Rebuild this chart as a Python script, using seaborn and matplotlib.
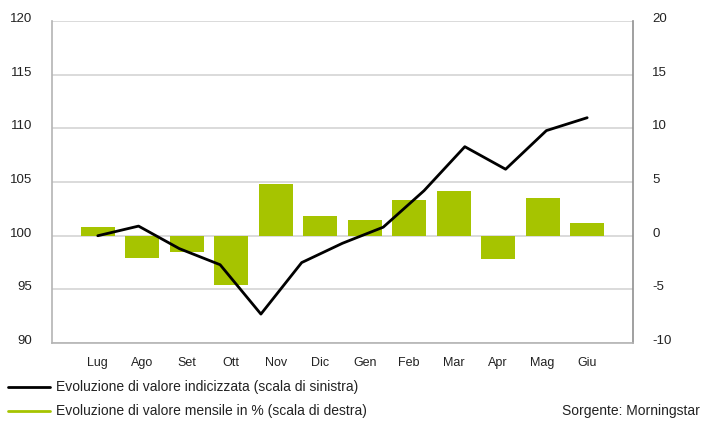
import numpy as np
import pandas as pd
import matplotlib
matplotlib.use("Agg")
import matplotlib.pyplot as plt
import matplotlib.transforms as mtrans
import seaborn as sns
from matplotlib.lines import Line2D

sns.set_theme(style="white")
plt.rcParams['font.family'] = ['Liberation Sans Narrow', 'Liberation Sans', 'DejaVu Sans']
plt.rcParams['axes.unicode_minus'] = False

months = ["Lug", "Ago", "Set", "Ott", "Nov", "Dic", "Gen", "Feb", "Mar", "Apr", "Mag", "Giu"]
monthly_pct = [0.84, -2.03, -1.56, -4.56, 4.78, 1.87, 1.5, 3.37, 4.2, -2.16, 3.56, 1.22]
index_values = [100.0, 100.9, 98.8, 97.3, 92.7, 97.5, 99.3, 100.8, 104.2, 108.3, 106.2, 109.8, 111.0]
left_ticks = [90, 95, 100, 105, 110, 115, 120]
right_ticks = [-10, -5, 0, 5, 10, 15, 20]

green = "#A6C400"
grid_c = "#D4D4D4"
spine_c = "#B4B4B4"
txt_c = "#222222"

fig = plt.figure(figsize=(7.02, 4.23), dpi=100)
ax = fig.add_axes([0.074, 0.189, 0.8277, 0.761])

bars_df = pd.DataFrame({"pos": np.arange(len(months)), "pct": monthly_pct})
sns.barplot(data=bars_df, x="pos", y="pct", color=green, saturation=1, width=0.76,
            native_scale=True, ax=ax, zorder=2, linewidth=0, edgecolor="none")
ax.set_ylim(-10, 20)
ax.set_xlim(-1.03, 12.03)
ax.set_yticks(right_ticks)
ax.set_xticks(range(len(months)))
ax.set_xticklabels(months)
ax.set_xlabel("")
ax.set_ylabel("")
ax.grid(axis="y", color=grid_c, linewidth=1.2, zorder=0)
ax.set_axisbelow(True)
for s in ["left", "bottom"]:
    ax.spines[s].set_color(spine_c)
    ax.spines[s].set_linewidth(1.2)
ax.spines["right"].set_color("#909090")
ax.spines["right"].set_linewidth(1.2)
ax.spines["top"].set_visible(False)

ax2 = ax.twinx()
line_df = pd.DataFrame({"x": np.linspace(0, len(months) - 1, len(index_values)), "v": index_values})
sns.lineplot(data=line_df, x="x", y="v", color="black", linewidth=2.0, ax=ax2, zorder=5)
ax2.set_ylim(90, 120)
ax2.set_yticks(left_ticks)
ax2.set_xlabel("")
ax2.set_ylabel("")
for s in ax2.spines.values():
    s.set_visible(False)
ax2.set_xlim(-1.03, 12.03)

# tick sides (after twinx)
ax.yaxis.tick_right()
ax2.yaxis.tick_left()
ax.tick_params(axis="both", length=0, labelsize=9.5, colors=txt_c)
ax.tick_params(axis="x", pad=10, labelsize=9)
ax.tick_params(axis="y", pad=14, labelleft=False, labelright=True)
ax2.tick_params(axis="y", length=0, labelsize=9.5, colors=txt_c, pad=14, labelleft=True, labelright=False)

shift = mtrans.ScaledTranslation(0, 2.5 / 72, fig.dpi_scale_trans)
for lbl in list(ax.get_yticklabels()) + list(ax2.get_yticklabels()):
    lbl.set_transform(lbl.get_transform() + shift)

# legend
fig.lines.append(Line2D([8/702, 50/702], [1-387/423, 1-387/423], color="black", lw=2, transform=fig.transFigure))
fig.lines.append(Line2D([8/702, 50/702], [1-411/423, 1-411/423], color=green, lw=2, transform=fig.transFigure))
fig.text(56/702, 1-387/423, "Evoluzione di valore indicizzata (scala di sinistra)", fontsize=10,
         va="center", ha="left", color=txt_c)
fig.text(56/702, 1-411/423, "Evoluzione di valore mensile in % (scala di destra)", fontsize=10,
         va="center", ha="left", color=txt_c)
fig.text(700/702, 1-411/423, "Sorgente: Morningstar", fontsize=10, va="center", ha="right", color=txt_c)

fig.savefig("out.png", dpi=100)
